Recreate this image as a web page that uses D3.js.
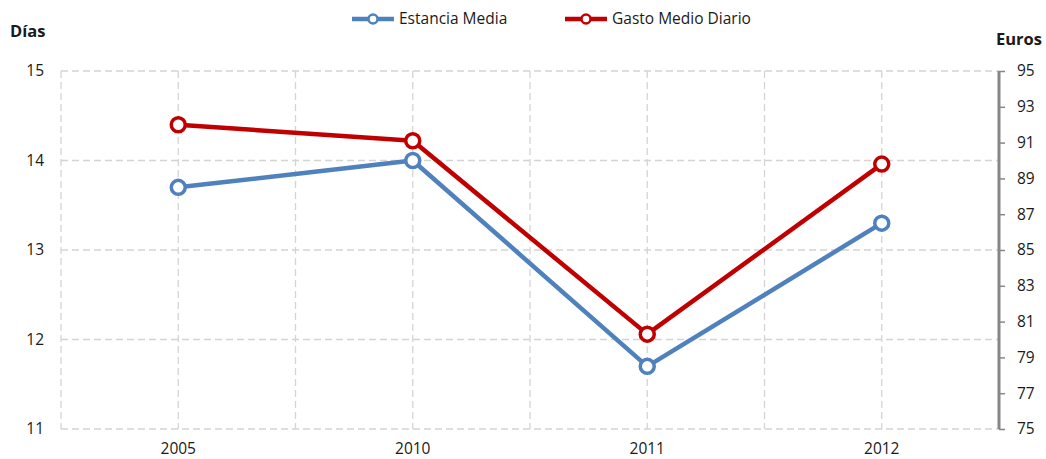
<!DOCTYPE html>
<html><head><meta charset="utf-8">
<script src="https://cdn.jsdelivr.net/npm/d3@7"></script>
<style>
body{margin:0;background:#fff;}
text{font-family:"Open Sans","Liberation Sans",sans-serif;fill:#1a1a1a;}
</style></head>
<body><svg id="c" width="1046" height="459"></svg>
<script>
const categories = ["2005","2010","2011","2012"];
const estanciaMedia = [13.7, 14.0, 11.7, 13.3];
const gastoMedioDiario = [92.0, 91.1, 80.3, 89.8];
const leftTicks = [11,12,13,14,15];
const rightTicks = [75,77,79,81,83,85,87,89,91,93,95];
const seriesNames = ["Estancia Media","Gasto Medio Diario"];
const colors = ["#4F81BD","#C00000"];

const svg = d3.select("#c");
const L = 61, R = 999, T = 71, B = 429;
const FS = 15.5;
const x = d3.scaleBand().domain(categories).range([L,R]);
const yL = d3.scaleLinear().domain([11,15]).range([B,T]);
const yR = d3.scaleLinear().domain([75,95]).range([B,T]);

const grid = svg.append("g").attr("stroke","#d4d4d4").attr("stroke-width",1.3).attr("stroke-dasharray","7,4");
leftTicks.forEach(t=>grid.append("line").attr("x1",L).attr("x2",R).attr("y1",yL(t)).attr("y2",yL(t)));
const vx = [];
categories.forEach(c=>{vx.push(x(c)); vx.push(x(c)+x.bandwidth()/2);});
vx.push(R);
vx.forEach(v=>grid.append("line").attr("x1",v).attr("x2",v).attr("y1",T).attr("y2",B));

function styleText(g){
  g.selectAll("text").attr("font-size",FS).attr("font-family","Open Sans, Liberation Sans, sans-serif").attr("fill","#1a1a1a");
}
// left axis labels
const gl = svg.append("g").attr("transform",`translate(${L},0)`)
  .call(d3.axisLeft(yL).tickValues(leftTicks).tickSize(0).tickPadding(17).tickFormat(d3.format("d")));
gl.select(".domain").remove();
styleText(gl);

// right axis
const gr = svg.append("g").attr("transform",`translate(${R},0)`)
  .call(d3.axisRight(yR).tickValues(rightTicks).tickSize(6).tickPadding(12).tickFormat(d3.format("d")));
gr.select(".domain").attr("stroke","#868686").attr("stroke-width",3).attr("d",`M0,${T}V${B}`);
gr.selectAll(".tick line").attr("stroke","#868686").attr("stroke-width",1.5);
styleText(gr);

// x axis labels
const gx = svg.append("g").attr("transform",`translate(0,${B})`)
  .call(d3.axisBottom(x).tickSize(0).tickPadding(14));
gx.select(".domain").remove();
styleText(gx);

svg.append("text").attr("x",10).attr("y",37).attr("font-size",16.5).attr("font-weight","bold").text("Días");
svg.append("text").attr("x",996).attr("y",45).attr("font-size",16.5).attr("font-weight","bold").text("Euros");

const cx = c => x(c)+x.bandwidth()/2;
const data = [
  {vals: estanciaMedia, y: yL},
  {vals: gastoMedioDiario, y: yR}
];
data.forEach((s,i)=>{
  const pts = categories.map((c,j)=>[cx(c), s.y(s.vals[j])]);
  svg.append("path").attr("d",d3.line()(pts)).attr("fill","none")
    .attr("stroke",colors[i]).attr("stroke-width",4.5).attr("stroke-linejoin","round");
  svg.selectAll(null).data(pts).enter().append("circle")
    .attr("cx",d=>d[0]).attr("cy",d=>d[1]).attr("r",7)
    .attr("fill","#fff").attr("stroke",colors[i]).attr("stroke-width",3.5);
});

// legend
const leg = [{x:352, tx:399},{x:565, tx:612}];
seriesNames.forEach((n,i)=>{
  const g = svg.append("g");
  g.append("line").attr("x1",leg[i].x).attr("x2",leg[i].x+42).attr("y1",19).attr("y2",19)
    .attr("stroke",colors[i]).attr("stroke-width",4.5);
  g.append("circle").attr("cx",leg[i].x+21).attr("cy",19).attr("r",4.5)
    .attr("fill","#fff").attr("stroke",colors[i]).attr("stroke-width",2.5);
  g.append("text").attr("x",leg[i].tx).attr("y",24).attr("font-size",FS).text(n);
});
</script></body></html>
